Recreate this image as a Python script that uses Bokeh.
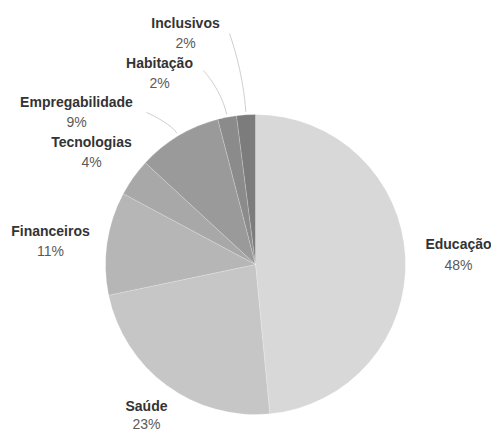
import math
from bokeh.plotting import figure
from bokeh.models import Range1d, ColumnDataSource
from bokeh.core.properties import value
from bokeh.embed import file_html
from bokeh.resources import INLINE

# ---- data ----
categories = ["Educação", "Saúde", "Financeiros", "Tecnologias", "Empregabilidade", "Habitação", "Inclusivos"]
percent = [48, 23, 11, 4, 9, 2, 2]

# ---- style / layout ----
colors = ["#d8d8d8", "#c6c6c6", "#b6b6b6", "#a8a8a8", "#9a9a9a", "#8b8b8b", "#7c7c7c"]
W, H = 491, 430
CX, CY_SCREEN, R = 255, 264, 150
# label anchors (screen px: x centre, y centre of name line), gap to percent line
label_pos = {
    "Educação": (458, 243, 21),
    "Saúde": (146, 405, 18),
    "Financeiros": (50, 230, 20),
    "Tecnologias": (91, 141, 20),
    "Empregabilidade": (76, 101, 20),
    "Habitação": (159, 62, 20),
    "Inclusivos": (185, 22, 20),
}
# leader line ends (screen px) for small slices
leader_end = {
    "Empregabilidade": (146, 112),
    "Habitação": (203, 70),
    "Inclusivos": (229, 33),
}

def sy(y):
    return H - y

total = float(sum(percent))
cum = 0.0
starts, ends, mids = [], [], []
for v in percent:
    t1 = cum / total * 2 * math.pi          # clockwise from top
    cum += v
    t2 = cum / total * 2 * math.pi
    starts.append(math.pi / 2 - t2)
    ends.append(math.pi / 2 - t1)
    mids.append((t1 + t2) / 2)

src = ColumnDataSource(dict(cat=categories, start=starts, end=ends, color=colors))

p = figure(width=W, height=H, output_backend="svg", toolbar_location=None,
           x_range=Range1d(0, W), y_range=Range1d(0, H), min_border=0)
p.axis.visible = False
p.grid.visible = False
p.outline_line_color = None
p.background_fill_color = "white"

p.wedge(x=CX, y=sy(CY_SCREEN), radius=R, start_angle="start", end_angle="end",
        fill_color="color", line_color="white", line_width=0.4, line_alpha=0.5, source=src)

# leader lines
for cat, t in zip(categories, mids):
    if cat not in leader_end:
        continue
    x0 = CX + (R + 3) * math.sin(t)
    y0 = CY_SCREEN - (R + 3) * math.cos(t)
    x1, y1 = leader_end[cat]
    c0x = x0 + 0.45 * (y0 - y1) * math.sin(t)
    c0y = y0 - 0.45 * (y0 - y1) * math.cos(t)
    c1x = x1 + 0.25 * (x0 - x1)
    c1y = y1 + 0.15 * (y0 - y1)
    p.bezier(x0=[x0], y0=[sy(y0)], x1=[x1], y1=[sy(y1)],
             cx0=[c0x], cy0=[sy(c0y)], cx1=[c1x], cy1=[sy(c1y)],
             line_color="#cfcfcf", line_width=1)

names_x, names_y, pct_x, pct_y, pct_txt = [], [], [], [], []
for cat, v in zip(categories, percent):
    x, y, gap = label_pos[cat]
    names_x.append(x); names_y.append(sy(y))
    pct_x.append(x); pct_y.append(sy(y + gap))
    pct_txt.append(f"{v}%")

p.text(x=names_x, y=names_y, text=categories, text_align="center", text_baseline="middle",
       text_font=value("Liberation Sans"), text_font_size="14px", text_font_style="bold",
       text_color="#333333")
p.text(x=pct_x, y=pct_y, text=pct_txt, text_align="center", text_baseline="middle",
       text_font=value("Liberation Sans"), text_font_size="14px",
       text_color="#5a5a5a")

open("out.html", "w").write(file_html(p, INLINE))
